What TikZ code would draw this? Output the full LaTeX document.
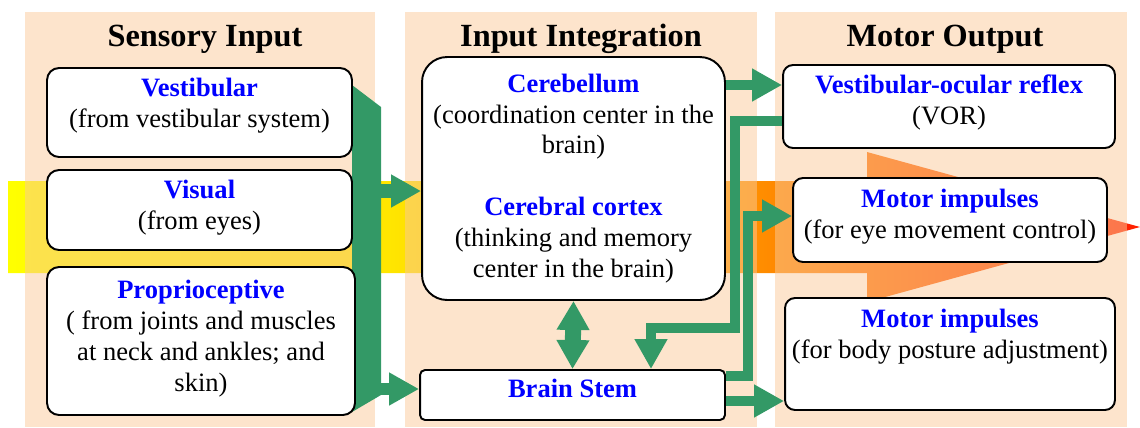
\documentclass[tikz,border=0pt]{standalone}
\usepackage{fontspec}
\setmainfont{Liberation Serif}
\usepackage{tikz}
\usetikzlibrary{arrows.meta}
\definecolor{panelc}{RGB}{251,201,153}
\definecolor{flowc}{RGB}{51,153,102}
\pgfdeclarehorizontalshading{bandshade}{100bp}{rgb(0bp)=(1,1,0); rgb(25bp)=(1,1,0); rgb(41.9bp)=(1,0.9,0); rgb(58.4bp)=(1,0.55,0); rgb(75bp)=(1,0.12,0); rgb(100bp)=(1,0.12,0)}
\newcommand{\hd}[1]{{\color{blue}\bfseries #1}}
\newcommand{\lift}[1]{\\[#1]\strut}
\tikzset{
	box/.style={draw, line width=1.1pt, fill=white, rounded corners=0.24cm, align=center, inner sep=0pt, font=\fontsize{15.1}{17.6}\selectfont},
	panel/.style={fill=panelc, fill opacity=0.5},
	title/.style={font=\fontsize{18.4}{22}\selectfont\bfseries},
	flow/.style={draw=flowc, line width=0.2cm, -{Triangle[width=0.62cm,length=0.6cm]}},
	dflow/.style={draw=flowc, line width=0.32cm, {Triangle[width=0.62cm,length=0.58cm]}-{Triangle[width=0.62cm,length=0.58cm]}},
}
\begin{document}
\begin{tikzpicture}[x=0.02cm,y=-0.02cm]
		\useasboundingbox (0,0) rectangle (1140,427);
		\shade[shading=bandshade] (8,181) -- (867,181) -- (867,152) -- (1140,227) -- (867,302) -- (867,273) -- (8,273) -- cycle;
		\fill[panel] (25,12) rectangle (375,427);
		\fill[panel] (405,12) rectangle (757,427);
		\fill[panel] (775,12) rectangle (1127,427);
		\node[title] (tsens) at (205,39) {Sensory Input};
		\node[title] (tint) at (581,39) {Input Integration};
		\node[title] (tmot) at (945,39) {Motor Output};
		\fill[flowc] (352,85) -- (381,107) -- (381,395) -- (352,412) -- cycle;
		\coordinate (barv) at (378,191);
		\coordinate (barst) at (378,389);
		\node[box, minimum width=6.1cm, minimum height=1.78cm] (vest) at (199.5,112.5) {\hd{Vestibular}\\(from vestibular system)\lift{-12pt}};
		\node[box, minimum width=6.1cm, minimum height=1.6cm] (vis) at (199.5,210) {\hd{Visual}\\(from eyes)\lift{-17.2pt}};
		\node[box, minimum width=6.16cm, minimum height=2.96cm] (prop) at (201,341) {\hd{Proprioceptive}\\( from joints and muscles\\at neck and ankles; and\\skin)\lift{-17.2pt}};
		\node[box, rounded corners=0.5cm, minimum width=6.06cm, minimum height=4.86cm] (cortex) at (573.5,178.5) {\hd{Cerebellum}\\(coordination center in the\\brain)\\\strut\\\hd{Cerebral cortex}\\(thinking and memory\\center in the brain)};
		\node[box, rounded corners=0.1cm, minimum width=6.1cm, minimum height=1cm] (stem) at (572.5,395) {\hd{Brain Stem}\lift{-15.4pt}};
		\node[box, rounded corners=0.2cm, minimum width=6.64cm, minimum height=1.66cm] (vor) at (949,106.5) {\hd{Vestibular-ocular reflex}\\(VOR)\lift{-15.3pt}};
		\node[box, rounded corners=0.2cm, minimum width=6.28cm, minimum height=1.68cm] (eye) at (950,220) {\hd{Motor impulses}\\(for eye movement control)\lift{-15.3pt}};
		\node[box, rounded corners=0.2cm, minimum width=6.6cm, minimum height=2.24cm] (body) at (950,354) {\hd{Motor impulses}\\(for body posture adjustment)\lift{0pt}};
		\draw[flow, line width=0.28cm] (barv) -- (cortex.west |- barv);
		\draw[flow, line width=0.24cm] (barst) -- (stem.west |- barst);
		\draw[dflow] (cortex.south) -- (stem.north);
		\draw[flow] (cortex.east |- 0,85) -- (vor.west |- 0,85);
		\draw[flow] (vor.west |- 0,121) -| (735,328) -| (stem.north -| 651,0);
		\draw[flow] (stem.east |- 0,376) -| (748,216) -- (eye.west |- 0,216);
		\draw[flow] (stem.east |- 0,401) -- (body.west |- 0,401);
	\end{tikzpicture}
\end{document}
